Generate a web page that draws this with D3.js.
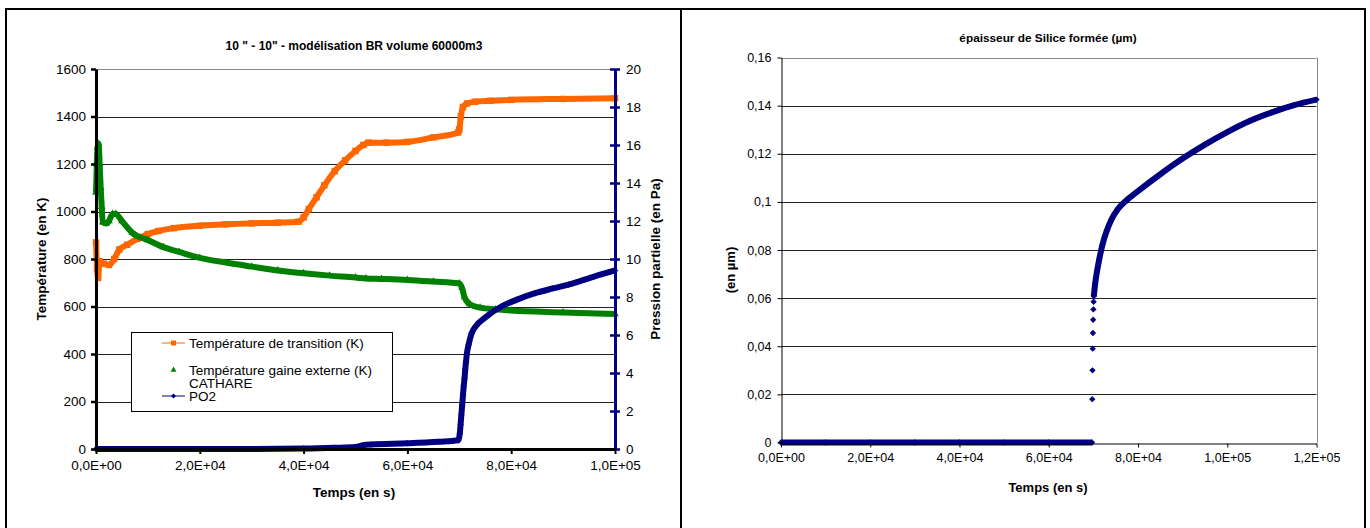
<!DOCTYPE html>
<html>
<head>
<meta charset="utf-8">
<script src="https://cdn.jsdelivr.net/npm/d3@7"></script>
<style>
  body { margin: 0; background: #fff; }
  svg { display: block; font-family: "Liberation Sans", Arial, sans-serif; }
  .tick text { fill: #000; }
</style>
</head>
<body>
<div id="chart"></div>
<script>
const width = 1370, height = 528;

// left chart: time (s) and series
const transTime = [0, 200, 400, 700, 1500, 2500, 3500, 4500, 6000, 8000, 10000, 12000, 15000, 20000, 25000, 30000, 35000, 39000, 40000, 41000, 42500, 44000, 46000, 48000, 50000, 51500, 52500, 56000, 60000, 65000, 69800, 70000, 70300, 70700, 71500, 73000, 76000, 80000, 90000, 100000];
const transTemp = [870, 760, 720, 790, 780, 775, 800, 840, 860, 885, 905, 918, 930, 940, 946, 950, 953, 957, 975, 1010, 1060, 1110, 1170, 1215, 1255, 1280, 1290, 1290, 1293, 1312, 1333, 1345, 1400, 1440, 1455, 1462, 1466, 1470, 1474, 1477];

const gaineTime = [0, 150, 300, 500, 700, 900, 1100, 1300, 2000, 2500, 3200, 3800, 5000, 7000, 10000, 13000, 16000, 20000, 25000, 30000, 35000, 40000, 45000, 50000, 52000, 55000, 60000, 65000, 70000, 70500, 71000, 72000, 74000, 77000, 80000, 90000, 100000];
const gaineTemp = [1080, 1200, 1270, 1285, 1200, 1100, 1020, 955, 950, 960, 990, 990, 960, 910, 880, 850, 830, 805, 785, 768, 752, 740, 730, 722, 718, 716, 712, 705, 697, 680, 640, 610, 595, 588, 583, 575, 568];

const po2Time = [0, 30000, 40000, 46000, 50000, 51500, 53000, 60000, 66000, 69800, 70100, 70250, 70400, 70550, 70700, 70850, 71000, 71150, 71300, 71450, 71800, 72400, 73300, 74900, 78100, 81000, 84600, 88000, 91000, 94000, 97500, 100000];
const po2Val = [0, 0, 0.02, 0.06, 0.1, 0.2, 0.24, 0.3, 0.38, 0.46, 0.82, 1.3, 1.8, 2.3, 2.8, 3.3, 3.7, 4.2, 4.6, 5.0, 5.5, 6.1, 6.5, 6.9, 7.5, 7.85, 8.2, 8.45, 8.65, 8.9, 9.2, 9.4];

// right chart: silica thickness (µm)
const silTime = [0, 10000, 20000, 30000, 40000, 50000, 60000, 69700, 69750, 69800, 69850, 69900, 69950, 70000, 70050, 70100, 70400, 70800, 71300, 72000, 73000, 74000, 75500, 77500, 80000, 85000, 90000, 95000, 100000, 105000, 110000, 115000, 120000];
const silVal = [0, 0, 0, 0, 0, 0, 0, 0, 0.018, 0.030, 0.039, 0.0455, 0.051, 0.0553, 0.0585, 0.0608, 0.066, 0.071, 0.076, 0.082, 0.088, 0.0925, 0.097, 0.1008, 0.1045, 0.1115, 0.118, 0.1238, 0.129, 0.1336, 0.1372, 0.1402, 0.1425];

const leftTicksX = [0, 20000, 40000, 60000, 80000, 100000];
const rightTicksX = [0, 20000, 40000, 60000, 80000, 100000, 120000];
const legendLabels = ["Température de transition (K)", "Température gaine externe (K)", "CATHARE", "PO2"];

const svg = d3.select("#chart")
  .append("svg")
  .attr("width", width)
  .attr("height", height);

// frames
svg.append("rect").attr("x", 6).attr("y", 9).attr("width", 675).attr("height", 540)
  .attr("fill", "none").attr("stroke", "#000").attr("stroke-width", 2);
svg.append("rect").attr("x", 681).attr("y", 9).attr("width", 684).attr("height", 540)
  .attr("fill", "none").attr("stroke", "#000").attr("stroke-width", 2);

function sci(v) {
  if (v === 0) return "0,0E+00";
  const e = Math.floor(Math.log10(v) + 1e-9);
  const m = v / Math.pow(10, e);
  return m.toFixed(1).replace(".", ",") + "E+" + String(e).padStart(2, "0");
}

const zip = (a, b) => a.map((t, i) => ({ t: t, v: b[i] }));

// ---------- left chart ----------
const x = d3.scaleLinear().domain([0, 100000]).range([96, 615]);
const y = d3.scaleLinear().domain([0, 1600]).range([449, 69]);
const y2 = d3.scaleLinear().domain([0, 20]).range([449, 69]);

const left = svg.append("g");

left.append("g")
  .selectAll("line")
  .data(y.ticks(8).filter(d => d > 0))
  .join("line")
  .attr("x1", x(0)).attr("x2", x(100000))
  .attr("y1", d => Math.round(y(d)) + 0.5).attr("y2", d => Math.round(y(d)) + 0.5)
  .attr("stroke", d => d === 1600 ? "#888" : "#222")
  .attr("stroke-width", 1);

const series = [
  { data: zip(transTime, transTemp), y: y, color: "#ff6600", shape: "square" },
  { data: zip(gaineTime, gaineTemp), y: y, color: "#008000", shape: "triangle" },
  { data: zip(po2Time, po2Val), y: y2, color: "#000080", shape: "diamond" }
];

function marker(shape, s) {
  if (shape === "square") return d3.symbol(d3.symbolSquare, s * s)();
  if (shape === "triangle") return d3.symbol(d3.symbolTriangle, s * s * 0.6)();
  return d3.symbol(d3.symbolSquare, s * s * 0.5)();
}

for (const s of series) {
  left.append("path")
    .datum(s.data)
    .attr("fill", "none")
    .attr("stroke", s.color)
    .attr("stroke-width", 6)
    .attr("stroke-linejoin", "round")
    .attr("d", d3.line().x(d => x(d.t)).y(d => s.y(d.v)).curve(d3.curveMonotoneX));
  left.append("g")
    .selectAll("path")
    .data(s.data)
    .join("path")
    .attr("d", marker(s.shape, 6.5))
    .attr("fill", s.color)
    .attr("transform", d => `translate(${x(d.t)},${s.y(d.v)})` + (s.shape === "diamond" ? " rotate(45)" : ""));
}

// axes
const axL = left.append("g")
  .attr("transform", `translate(${x(0)},0)`)
  .call(d3.axisLeft(y).ticks(8).tickFormat(d3.format("d")).tickSize(5).tickPadding(5).tickSizeOuter(0));
axL.select(".domain").attr("stroke-width", 3);
axL.selectAll(".tick line").attr("stroke-width", 2.5);

const axR = left.append("g")
  .attr("transform", `translate(${x(100000)},0)`)
  .call(d3.axisRight(y2).ticks(10).tickSize(5).tickPadding(6).tickSizeOuter(0));
axR.select(".domain").attr("stroke", "#000080").attr("stroke-width", 3);
axR.selectAll(".tick line").attr("stroke", "#000080").attr("stroke-width", 2.5).attr("x1", -5);

const axB = left.append("g")
  .attr("transform", `translate(0,${y(0)})`)
  .call(d3.axisBottom(x).tickValues(leftTicksX).tickFormat(sci).tickSize(5).tickPadding(6).tickSizeOuter(0));
axB.select(".domain").attr("stroke-width", 3);
axB.selectAll(".tick line").attr("stroke-width", 2);
left.selectAll(".tick text").attr("font-size", 13.5);

left.append("text")
  .attr("x", 354).attr("y", 50)
  .attr("text-anchor", "middle")
  .attr("font-size", 12).attr("font-weight", "bold")
  .text('10 " - 10" - modélisation BR volume 60000m3');

left.append("text")
  .attr("x", 354).attr("y", 497)
  .attr("text-anchor", "middle")
  .attr("font-size", 13.5).attr("font-weight", "bold")
  .text("Temps (en s)");

left.append("text")
  .attr("transform", "translate(46,259) rotate(-90)")
  .attr("text-anchor", "middle")
  .attr("font-size", 13.5).attr("font-weight", "bold")
  .text("Température (en K)");

left.append("text")
  .attr("transform", "translate(660,259) rotate(-90)")
  .attr("text-anchor", "middle")
  .attr("font-size", 13.5).attr("font-weight", "bold")
  .text("Pression partielle (en Pa)");

// legend
const lg = left.append("g");
lg.append("rect").attr("x", 131.5).attr("y", 332.5).attr("width", 261).attr("height", 79)
  .attr("fill", "#fff").attr("stroke", "#000");
const legendRows = [
  { y: 343, color: "#ff6600", shape: "square", line: true, text: [legendLabels[0]] },
  { y: 370, color: "#008000", shape: "triangle", line: false, text: [legendLabels[1], legendLabels[2]] },
  { y: 396, color: "#000080", shape: "diamond", line: true, text: [legendLabels[3]] }
];
for (const r of legendRows) {
  if (r.line) {
    lg.append("line").attr("x1", 162).attr("x2", 185).attr("y1", r.y).attr("y2", r.y)
      .attr("stroke", r.color).attr("stroke-width", 1);
  }
  lg.append("path").attr("d", marker(r.shape, 5))
    .attr("fill", r.color)
    .attr("transform", `translate(173.5,${r.y})` + (r.shape === "diamond" ? " rotate(45)" : ""));
  r.text.forEach((t, i) => {
    lg.append("text").attr("x", 189).attr("y", r.y + 5 + i * 12.5)
      .attr("font-size", 13.5).text(t);
  });
}

// ---------- right chart ----------
const xs = d3.scaleLinear().domain([0, 120000]).range([781, 1316.5]);
const ys = d3.scaleLinear().domain([0, 0.16]).range([442.5, 57.5]);

const right = svg.append("g");

right.append("g")
  .selectAll("line")
  .data(d3.range(1, 9).map(i => i * 0.02))
  .join("line")
  .attr("x1", xs(0)).attr("x2", xs(120000))
  .attr("y1", d => Math.round(ys(d)) + 0.5).attr("y2", d => Math.round(ys(d)) + 0.5)
  .attr("stroke", (d, i) => i === 7 ? "#888" : "#222");
right.append("line")
  .attr("x1", Math.round(xs(120000)) + 0.5).attr("x2", Math.round(xs(120000)) + 0.5)
  .attr("y1", ys(0.16)).attr("y2", ys(0))
  .attr("stroke", "#888");

const silData = zip(silTime, silVal);
right.append("path")
  .datum(silData)
  .attr("fill", "none")
  .attr("stroke", "#000080")
  .attr("stroke-width", 6)
  .attr("d", d3.line().defined(d => d.v === 0 || d.v > 0.06).x(d => xs(d.t)).y(d => ys(d.v)).curve(d3.curveMonotoneX));
right.append("g")
  .selectAll("path")
  .data(silData)
  .join("path")
  .attr("d", d3.symbol(d3.symbolSquare, 20)())
  .attr("fill", "#000080")
  .attr("transform", d => `translate(${xs(d.t)},${ys(d.v)}) rotate(45)`);

const fmtR = v => String(+v.toFixed(2)).replace(".", ",");
right.append("g")
  .attr("transform", `translate(${Math.round(xs(0)) + 0.5},0)`)
  .call(d3.axisLeft(ys).tickValues(d3.range(0, 9).map(i => i * 0.02)).tickFormat(fmtR).tickSize(4).tickPadding(6).tickSizeOuter(0));
right.append("g")
  .attr("transform", `translate(0,${Math.round(ys(0)) + 0.5})`)
  .call(d3.axisBottom(xs).tickValues(rightTicksX).tickFormat(sci).tickSize(4).tickPadding(6).tickSizeOuter(0));
right.selectAll(".tick text").attr("font-size", 12.5);

right.append("text")
  .attr("x", 1048).attr("y", 42)
  .attr("text-anchor", "middle")
  .attr("font-size", 11.8).attr("font-weight", "bold")
  .text("épaisseur de Silice formée (µm)");

right.append("text")
  .attr("x", 1048).attr("y", 492)
  .attr("text-anchor", "middle")
  .attr("font-size", 13).attr("font-weight", "bold")
  .text("Temps (en s)");

right.append("text")
  .attr("transform", "translate(735,270) rotate(-90)")
  .attr("text-anchor", "middle")
  .attr("font-size", 13).attr("font-weight", "bold")
  .text("(en µm)");
</script>
</body>
</html>
